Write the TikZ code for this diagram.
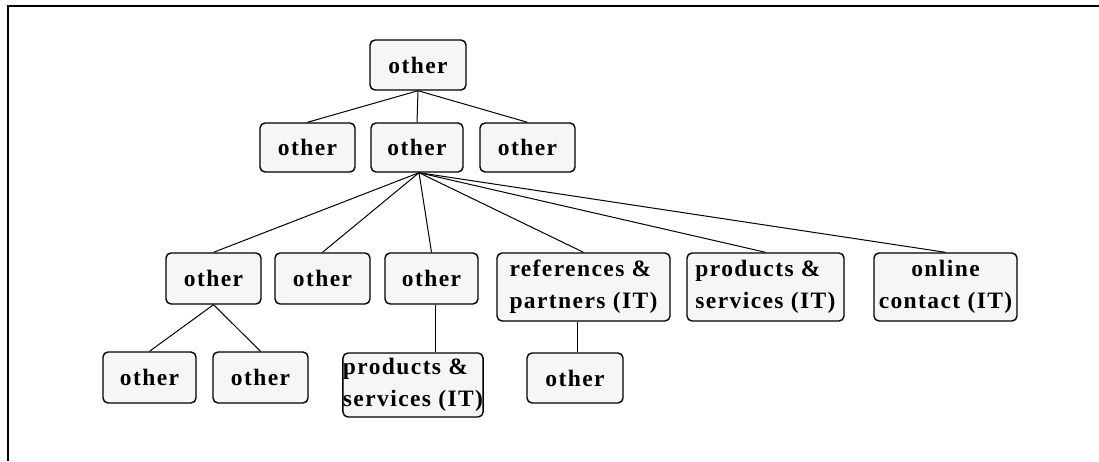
\documentclass[tikz,border=0pt]{standalone}
\usepackage{fontspec}
\setmainfont{Liberation Serif}[LetterSpace=6]
\begin{document}
\begin{tikzpicture}[x=1pt,y=-1pt,
  box/.style={draw=black, line width=1.4pt, fill=gray!7, rounded corners=5pt,
    inner sep=0pt, minimum height=50pt,
    font=\fontsize{23.5}{32}\selectfont\bfseries},
  link/.style={draw=black, line width=1pt}]
\useasboundingbox (0,0) rectangle (1099,461);
% outer frame (top and left edges)
\draw[line width=2pt] (8,461) -- (8,6) -- (1099,6);

% level 1
\node[box, minimum width=96pt] (root) at (418,65) {other};
% level 2
\node[box, minimum width=95pt, minimum height=49pt] (la) at (307.5,147.5) {other};
\node[box, minimum width=92pt, minimum height=49pt] (lb) at (417,147.5) {other};
\node[box, minimum width=95pt, minimum height=49pt] (lc) at (527.5,147.5) {other};
% level 3
\node[box, minimum width=95pt, minimum height=51pt] (ma) at (213.5,278.5) {other};
\node[box, minimum width=95pt, minimum height=51pt] (mb) at (322.5,278.5) {other};
\node[box, minimum width=93pt, minimum height=51pt] (mc) at (431.5,278.5) {other};
\node[box, minimum width=173pt, minimum height=68pt, align=left] (md) at (583.5,287) {references \&\\partners (IT)};
\node[box, minimum width=157pt, minimum height=68pt, align=left] (me) at (765.5,287) {products \&\\services (IT)};
\node[box, minimum width=143pt, minimum height=68pt, align=center] (mf) at (945.5,287) {online\\contact (IT)};
% level 4
\node[box, minimum width=93pt, minimum height=51pt] (na) at (149.5,377.5) {other};
\node[box, minimum width=95pt, minimum height=51pt] (nb) at (260.5,377.5) {other};
\node[box, minimum width=118pt, minimum height=64pt, align=left] (nc) at (413,385) {products \&\\services (IT)};
\node[box, minimum width=96pt, minimum height=50pt] (nd) at (575,378) {other};

% connectors
\foreach \c in {la,lb,lc} \draw[link] (root.south) -- (\c.north);
\foreach \c in {ma,mb,mc,md,me,mf} \draw[link] ([xshift=2pt]lb.south) -- (\c.north);
\foreach \c in {na,nb} \draw[link] (ma.south) -- (\c.north);
\draw[link] ([xshift=3.5pt]mc.south) -- ([xshift=3.5pt]mc.south |- nc.north);
\draw[link] ([xshift=-6.5pt]md.south) -- ([xshift=-6.5pt]md.south |- nd.north);
\end{tikzpicture}
\end{document}
